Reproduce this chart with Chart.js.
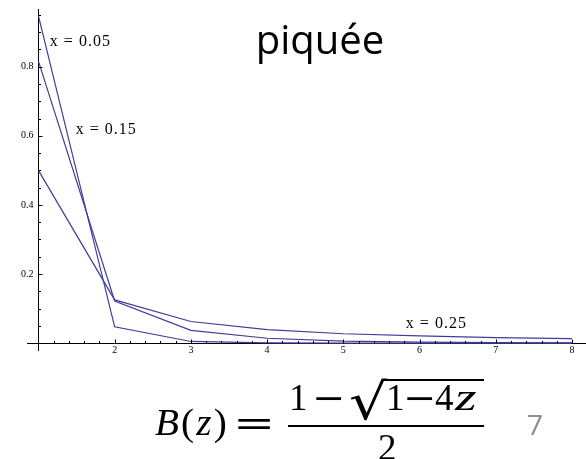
<!DOCTYPE html>
<html>
<head>
<meta charset="utf-8">
<script src="https://cdn.jsdelivr.net/npm/chart.js@4/dist/chart.umd.min.js"></script>
<style>
  html, body { margin: 0; padding: 0; background: #fff; }
  body { width: 586px; height: 459px; position: relative; overflow: hidden; }
  #plot { position: absolute; left: 0; top: 0; }
  .t { position: absolute; white-space: nowrap; transform-origin: left center; }
  .title { left: 220px; top: 19px; width: 200px; text-align: center; font: 40px/40px "Open Sans", sans-serif; color: #000; }
  .m { font: 37px/36px "Liberation Serif", serif; color: #000; }
  .op { font: 36px/36px "DejaVu Serif", serif; color: #000; }
  .page { left: 527px; top: 410px; font: 28px/28px "Open Sans", sans-serif; color: #8c8c8c; }
  .bar { position: absolute; background: #000; }
</style>
</head>
<body>
<canvas id="plot" width="586" height="459"></canvas>

<div class="t title">piquée</div>

<!-- B(z) = (1 - sqrt(1 - 4z)) / 2 -->
<div class="t m" style="left:155px; top:405px; letter-spacing:2px; transform:scaleX(1.06);"><i>B</i>(<i>z</i>)</div>
<div class="t op" style="left:233px; top:405px; transform:scaleX(1.4);">=</div>
<div class="t m" style="left:289px; top:380px;">1</div>
<div class="t op" style="left:312px; top:380px; transform:scaleX(1.1);">−</div>
<div class="t op" style="left:349px; top:377px; font-size:50px; line-height:50px; transform:scaleX(1.2);">√</div>
<div class="bar" style="left:382px; top:379px; width:102px; height:2px;"></div>
<div class="t m" style="left:386px; top:380px;">1</div>
<div class="t op" style="left:403px; top:380px; transform:scaleX(1.1);">−</div>
<div class="t m" style="left:435px; top:380px;">4</div>
<div class="t m" style="left:455px; top:380px; transform:scaleX(1.5);"><i>z</i></div>
<div class="bar" style="left:288px; top:425px; width:196px; height:2px;"></div>
<div class="t m" style="left:378px; top:430px;">2</div>

<div class="t page">7</div>

<script>
// tree size n and probability of each size for three values of x
const sizes = [1, 2, 3, 4, 5, 6, 7, 8];
const seriesNames = ['x = 0.05', 'x = 0.15', 'x = 0.25'];
const probX005 = [0.947, 0.047, 0.0047, 0.0006, 0.00008, 0.00001, 0.000002, 0.0000003];
const probX015 = [0.816, 0.122, 0.037, 0.014, 0.0058, 0.0026, 0.0012, 0.0006];
const probX025 = [0.5, 0.125, 0.0625, 0.039, 0.027, 0.021, 0.016, 0.013];
const xTickLabels = [2, 3, 4, 5, 6, 7, 8];
const yTickLabels = [0.2, 0.4, 0.6, 0.8];

const lineColor = 'rgb(63, 61, 153)';

function toPoints(values) {
    return sizes.map(function(n, i) { return { x: n, y: values[i] }; });
}

// label for each curve, anchored in data units
const curveLabels = [
    { text: seriesNames[0], x: 1.15, y: 0.859 },
    { text: seriesNames[1], x: 1.49, y: 0.605 },
    { text: seriesNames[2], x: 5.82, y: 0.044 }
];

// Mathematica style ticks: drawn inward, minor and major
const inwardTicks = {
    id: 'inwardTicks',
    afterDraw: function(chart) {
        const ctx = chart.ctx;
        const xs = chart.scales.x;
        const ys = chart.scales.y;
        const x0 = Math.round(xs.getPixelForValue(1)) + 0.5;
        const y0 = Math.round(ys.getPixelForValue(0)) + 0.5;
        ctx.save();
        ctx.strokeStyle = '#000';
        ctx.lineWidth = 1;
        ctx.beginPath();
        for (let i = 1; i <= 35; i++) {
            const px = Math.round(xs.getPixelForValue(1 + i * 0.2)) + 0.5;
            const len = (i % 5 === 0) ? 4 : 2.5;
            ctx.moveTo(px, y0);
            ctx.lineTo(px, y0 - len);
        }
        for (let j = 1; j <= 19; j++) {
            const py = Math.round(ys.getPixelForValue(j * 0.05)) + 0.5;
            const len = (j % 4 === 0) ? 4 : 2.5;
            ctx.moveTo(x0, py);
            ctx.lineTo(x0 + len, py);
        }
        ctx.stroke();

        ctx.fillStyle = '#000';
        ctx.font = '16px "Liberation Serif", serif';
        ctx.textAlign = 'left';
        ctx.textBaseline = 'alphabetic';
        if ('letterSpacing' in ctx) ctx.letterSpacing = '1px';
        curveLabels.forEach(function(l) {
            ctx.fillText(l.text, xs.getPixelForValue(l.x), ys.getPixelForValue(l.y));
        });
        ctx.restore();
    }
};

new Chart(document.getElementById('plot'), {
    type: 'line',
    data: {
        datasets: [
            { label: seriesNames[0], data: toPoints(probX005) },
            { label: seriesNames[1], data: toPoints(probX015) },
            { label: seriesNames[2], data: toPoints(probX025) }
        ].map(function(ds) {
            return Object.assign(ds, {
                borderColor: lineColor,
                borderWidth: 1.2,
                pointRadius: 0,
                tension: 0,
                fill: false
            });
        })
    },
    options: {
        responsive: false,
        animation: false,
        layout: { padding: { left: 27, right: 1, top: 5, bottom: 109 } },
        plugins: {
            legend: { display: false },
            tooltip: { enabled: false }
        },
        scales: {
            x: {
                type: 'linear',
                position: { y: 0 },
                min: 0.85,
                max: 8.17,
                afterBuildTicks: function(scale) {
                    scale.ticks = xTickLabels.map(function(v) { return { value: v }; });
                },
                grid: { display: false, drawTicks: false },
                border: { display: true, color: '#000', width: 1 },
                ticks: {
                    padding: 1,
                    color: '#000',
                    maxRotation: 0,
                    autoSkip: false,
                    font: { family: '"Liberation Serif", serif', size: 10 }
                }
            },
            y: {
                type: 'linear',
                position: { x: 1 },
                min: -0.02,
                max: 0.967,
                afterBuildTicks: function(scale) {
                    scale.ticks = yTickLabels.map(function(v) { return { value: v }; });
                },
                grid: { display: false, drawTicks: false },
                border: { display: true, color: '#000', width: 1 },
                ticks: {
                    color: '#000',
                    autoSkip: false,
                    font: { family: '"Liberation Serif", serif', size: 10 },
                    callback: function(value) {
                        return value.toFixed(1) + '\u2002';
                    }
                }
            }
        }
    },
    plugins: [inwardTicks]
});
</script>
</body>
</html>
